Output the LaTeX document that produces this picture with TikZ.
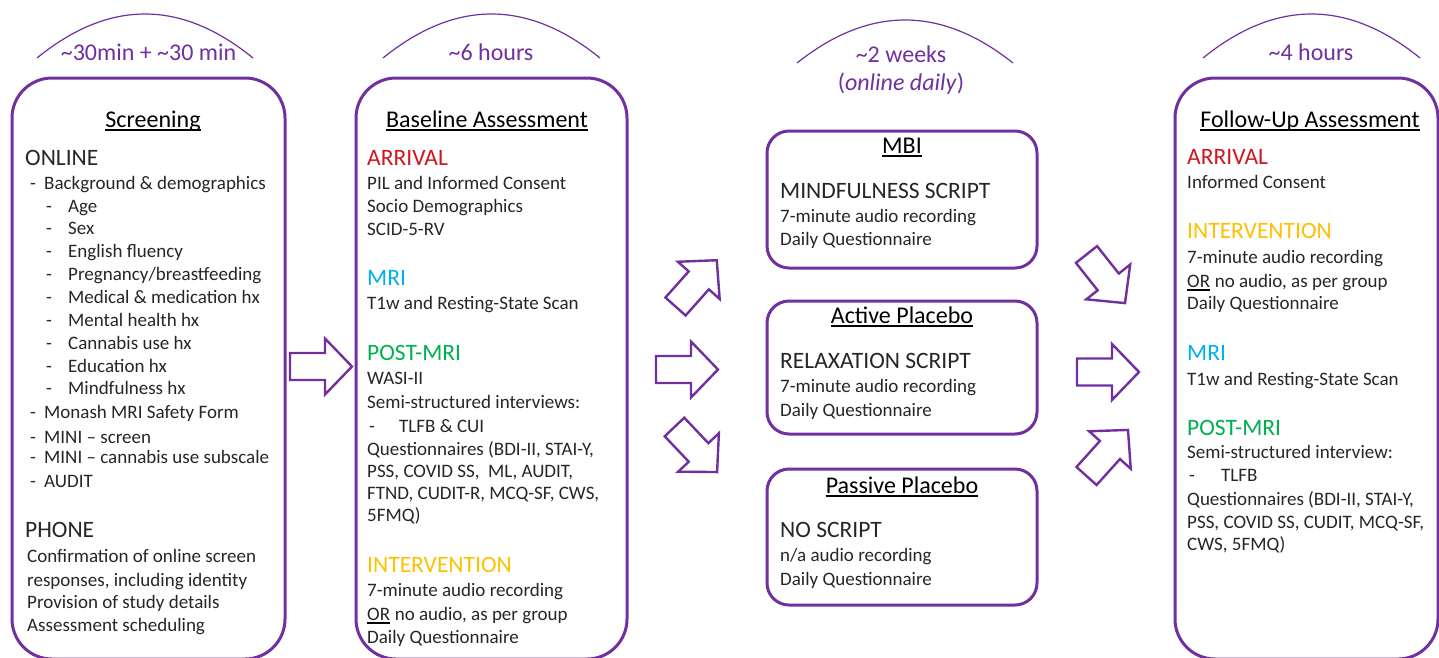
\documentclass[tikz,border=0pt]{standalone}
\usepackage{fontspec}
\setmainfont{Carlito}
\definecolor{purp}{HTML}{7030A0}
\definecolor{txt}{HTML}{262626}
\definecolor{hred}{HTML}{D0161E}
\definecolor{hblue}{HTML}{00B0F0}
\definecolor{hgreen}{HTML}{00B050}
\definecolor{hyel}{HTML}{FFC000}
\newcommand\bodyfs{\fontsize{19}{23}\selectfont}
\newcommand\headfs{\fontsize{23.5}{28}\selectfont}
\newcommand\ttlfs{\fontsize{24}{28}\selectfont}
\newcommand\labfs{\fontsize{24}{28}\selectfont}
% \txtline[style]{name}{x}{y}{text}
\newcommand\txtline[5][]{\node[body,#1] (#2) at (#3,#4) {#5};}
% \dashline{name}{dash x}{text x}{y}{text}
\newcommand\dashline[5]{\node[body] (#1d) at (#2,#4) {-};\node[body] (#1) at (#3,#4) {#5};}
\newcommand\ulnode[1]{\draw[ul] ([yshift=-2.8pt]#1.base west) -- ([yshift=-2.8pt]#1.base east);}
% \blockarr{x}{y}{angle}{shaft half width}
\newcommand\blockarr[4]{\draw[barrow, shift={(#1,#2)}, rotate=#3] (0,-#4) -- (35,-#4) -- (35,-28) -- (62,0) -- (35,28) -- (35,#4) -- (0,#4) -- cycle;}
% \overarc{xL}{xR}{yEnd}{yPeak}
\newcommand\overarc[4]{\draw[arcline] (#1,#3) .. controls ({#1+(#2-#1)/3},{(4*#4-#3)/3}) and ({#2-(#2-#1)/3},{(4*#4-#3)/3}) .. (#2,#3);}
\tikzset{
  bigbox/.style={draw=purp, line width=3pt, rounded corners=40pt},
  smallbox/.style={draw=purp, line width=3pt, rounded corners=22pt},
  body/.style={anchor=base west, inner sep=0pt, font=\bodyfs, text=txt},
  hd/.style={font=\headfs},
  ttl/.style={anchor=base, font=\ttlfs, text=black},
  lab/.style={anchor=base, inner sep=0pt, font=\labfs, text=purp},
  ul/.style={line width=1.9pt, black},
  barrow/.style={draw=purp, line width=2.4pt, line join=miter, fill=white},
  arcline/.style={draw=purp, line width=1.2pt}
}
\begin{document}
\begin{tikzpicture}[x=1pt, y=-1pt]
\useasboundingbox (0,0) rectangle (1439,657);
\clip (0,0) rectangle (1439,657);
\fill[white] (0,0) rectangle (1439,657);

% ---------- arcs and time labels ----------
\overarc{37}{253}{58}{14}
\overarc{383}{600}{58}{14}
\overarc{797}{1013}{63}{20}
\overarc{1203}{1420}{58}{14}
\node[lab] (lab1) at (148.5,60) {\textasciitilde30min + \textasciitilde30 min};
\node[lab] (lab2) at (491,60) {\textasciitilde6 hours};
\node[lab] (lab3) at (901,62) {\textasciitilde2 weeks};
\node[lab] (lab3b) at (901,90) {(\textit{online daily})};
\node[lab] (lab4) at (1311,60) {\textasciitilde4 hours};

% ---------- boxes ----------
\draw[bigbox] (12,78) rectangle (285,659);
\draw[bigbox] (356,78) rectangle (627,659);
\draw[bigbox] (1175,78) rectangle (1438,659);
\draw[smallbox] (767,131) rectangle (1037,268);
\draw[smallbox] (767,301) rectangle (1037,434);
\draw[smallbox] (767,469) rectangle (1037,605);

% ---------- block arrows ----------
\blockarr{290}{366.5}{0}{13.5}
\blockarr{675.5}{306.5}{48.3}{13.5}
\blockarr{656}{369.5}{0}{13.5}
\blockarr{674.5}{427}{-46.6}{13.5}
\blockarr{1086.5}{254.5}{-51.6}{13.5}
\blockarr{1077}{372}{0}{13.5}
\blockarr{1086.5}{476}{48}{13.5}

% ---------- Screening ----------
\txtline[ttl]{scrT}{153}{127}{Screening}
\ulnode{scrT}
\txtline[hd]{online}{25}{165}{ONLINE}
\dashline{s1}{30}{44}{189}{Background \& demographics}
\dashline{s2}{46}{68}{212.5}{Age}
\dashline{s3}{46}{68}{234}{Sex}
\dashline{s4}{46}{68}{257}{English fluency}
\dashline{s5}{46}{68}{280}{Pregnancy/breastfeeding}
\dashline{s6}{46}{68}{303}{Medical \& medication hx}
\dashline{s7}{46}{68}{326}{Mental health hx}
\dashline{s8}{46}{68}{349}{Cannabis use hx}
\dashline{s9}{46}{68}{372}{Education hx}
\dashline{s10}{46}{68}{394.5}{Mindfulness hx}
\dashline{s11}{30}{44}{418}{Monash MRI Safety Form}
\dashline{s12}{30}{44}{443}{MINI – screen}
\dashline{s13}{30}{44}{463.5}{MINI – cannabis use subscale}
\dashline{s14}{30}{44}{487.5}{AUDIT}
\txtline[hd]{phone}{25}{537}{PHONE}
\txtline{p1}{27}{562}{Confirmation of online screen}
\txtline{p2}{27}{586}{responses, including identity}
\txtline{p3}{27}{608}{Provision of study details}
\txtline{p4}{27}{631}{Assessment scheduling}

% ---------- Baseline Assessment ----------
\txtline[ttl]{baseT}{487}{127}{Baseline Assessment}
\ulnode{baseT}
\txtline[hd,text=hred]{b1}{367}{165}{ARRIVAL}
\txtline{b2}{367}{189}{PIL and Informed Consent}
\txtline{b3}{367}{212.5}{Socio Demographics}
\txtline{b4}{367}{235}{SCID-5-RV}
\txtline[hd,text=hblue]{b5}{367}{285}{MRI}
\txtline{b6}{367}{309}{T1w and Resting-State Scan}
\txtline[hd,text=hgreen]{b7}{367}{360}{POST-MRI}
\txtline{b8}{367}{384}{WASI-II}
\txtline{b9}{367}{408}{Semi-structured interviews:}
\dashline{b10}{369}{399}{432}{TLFB \& CUI}
\txtline{b11}{367}{455}{Questionnaires (BDI-II, STAI-Y,}
\txtline{b12}{367}{477}{PSS, COVID SS,~ ML, AUDIT,}
\txtline{b13}{367}{499}{FTND, CUDIT-R, MCQ-SF, CWS,}
\txtline{b14}{367}{521}{5FMQ)}
\txtline[hd,text=hyel]{b15}{367}{572}{INTERVENTION}
\txtline{b16}{367}{596}{7-minute audio recording}
\txtline{b17}{367}{620}{OR}
\ulnode{b17}
\node[body] (b17b) at (b17.base east) {\ no audio, as per group};
\txtline{b18}{367}{643}{Daily Questionnaire}

% ---------- MBI ----------
\txtline[ttl]{mbiT}{902}{153}{MBI}
\ulnode{mbiT}
\txtline[hd]{m1}{780}{198}{MINDFULNESS SCRIPT}
\txtline{m2}{780}{222}{7-minute audio recording}
\txtline{m3}{780}{245}{Daily Questionnaire}

% ---------- Active Placebo ----------
\txtline[ttl]{actT}{902}{323}{Active Placebo}
\ulnode{actT}
\txtline[hd]{a1}{780}{368}{RELAXATION SCRIPT}
\txtline{a2}{780}{392}{7-minute audio recording}
\txtline{a3}{780}{416}{Daily Questionnaire}

% ---------- Passive Placebo ----------
\txtline[ttl]{pasT}{902}{493}{Passive Placebo}
\ulnode{pasT}
\txtline[hd]{q1}{780}{537}{NO SCRIPT}
\txtline{q2}{780}{561}{n/a audio recording}
\txtline{q3}{780}{585}{Daily Questionnaire}

% ---------- Follow-Up Assessment ----------
\txtline[ttl]{folT}{1310}{127}{Follow-Up Assessment}
\ulnode{folT}
\txtline[hd,text=hred]{f1}{1187}{164}{ARRIVAL}
\txtline{f2}{1187}{188}{Informed Consent}
\txtline[hd,text=hyel]{f3}{1187}{238}{INTERVENTION}
\txtline{f4}{1187}{263}{7-minute audio recording}
\txtline{f5}{1187}{287}{OR}
\ulnode{f5}
\node[body] (f5b) at (f5.base east) {\ no audio, as per group};
\txtline{f6}{1187}{309}{Daily Questionnaire}
\txtline[hd,text=hblue]{f7}{1187}{360}{MRI}
\txtline{f8}{1187}{385}{T1w and Resting-State Scan}
\txtline[hd,text=hgreen]{f9}{1187}{435}{POST-MRI}
\txtline{f10}{1187}{458}{Semi-structured interview:}
\dashline{f11}{1189}{1221}{481}{TLFB}
\txtline{f12}{1187}{505}{Questionnaires (BDI-II, STAI-Y,}
\txtline{f13}{1187}{528}{PSS, COVID SS, CUDIT, MCQ-SF,}
\txtline{f14}{1187}{550}{CWS, 5FMQ)}
\end{tikzpicture}
\end{document}
